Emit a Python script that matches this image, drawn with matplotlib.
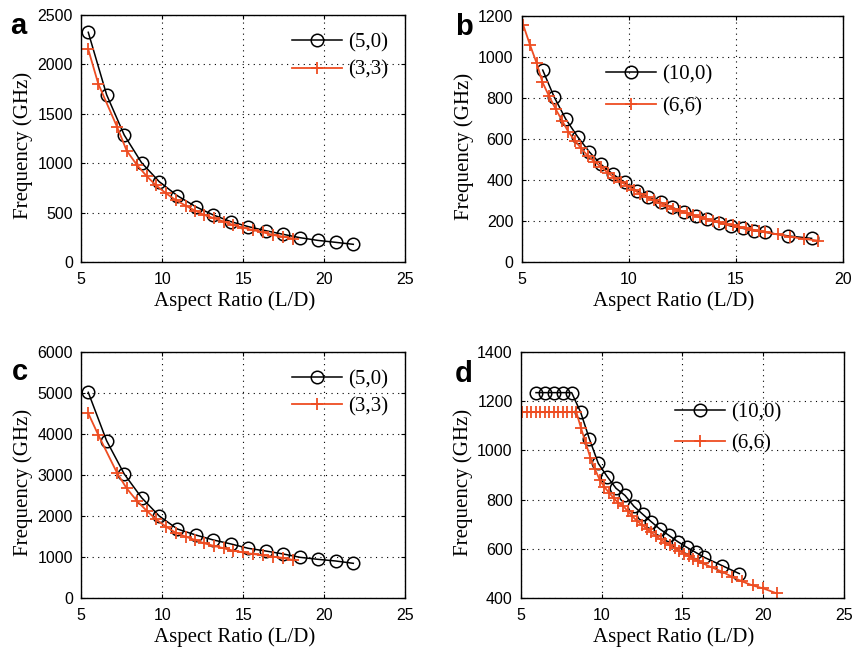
import matplotlib
matplotlib.use("Agg")
import matplotlib.pyplot as plt

# panel a / c : (5,0) and (3,3)
ar_50 = [5.43, 6.56, 7.65, 8.72, 9.81, 10.93, 12.06, 13.15, 14.24, 15.31, 16.38,
         17.47, 18.50, 19.59, 20.70, 21.79]
ar_33 = [5.43, 6.05, 7.22, 7.80, 8.42, 9.03, 9.61, 10.23, 10.82, 11.44, 12.02,
         12.59, 13.21, 13.81, 14.38, 15.00, 15.58, 16.23, 16.85, 17.47, 18.09]
freq_50_a = [2325, 1694, 1285, 1005, 813, 671, 560, 476, 408, 358, 317, 280,
             246, 219, 199, 179]
freq_33_a = [2152, 1802, 1363, 1127, 985, 870, 776, 695, 628, 570, 520, 476,
             442, 408, 374, 347, 324, 300, 273, 256, 236]
freq_50_c = [5011, 3835, 3024, 2449, 2003, 1686, 1541, 1419, 1322, 1216, 1151,
             1078, 997, 949, 908, 851]
freq_33_c = [4500, 3973, 3040, 2676, 2376, 2132, 1922, 1743, 1597, 1500, 1419,
             1338, 1273, 1216, 1159, 1119, 1078, 1046, 1014, 981, 932]

# panel b : (10,0) and (6,6)
ar_100_b = [5.98, 6.51, 7.05, 7.61, 8.15, 8.68, 9.24, 9.80, 10.36, 10.90, 11.48,
            12.02, 12.57, 13.12, 13.66, 14.20, 14.76, 15.31, 15.84, 16.35, 17.43, 18.52]
freq_100_b = [935, 805, 697, 610, 537, 477, 429, 388, 347, 315, 291, 266, 242,
              224, 208, 191, 175, 164, 152, 145, 127, 115]
ar_66_b = [5.07, 5.39, 5.70, 5.96, 6.27, 6.59, 6.89, 7.17, 7.49, 7.77, 8.08, 8.39,
           8.70, 9.01, 9.32, 9.62, 9.93, 10.24, 10.54, 10.85, 11.16, 11.46, 11.77,
           12.08, 12.38, 12.69, 13.00, 13.30, 13.61, 13.92, 14.22, 14.53, 14.84,
           15.14, 15.45, 15.76, 16.06, 16.37, 16.94, 17.51, 18.15, 18.84]
freq_66_b = [1155, 1057, 968, 878, 809, 744, 688, 635, 591, 554, 517, 489, 464,
             435, 411, 390, 372, 350, 332, 315, 300, 286, 273, 260, 249, 238, 228,
             219, 210, 201, 193, 185, 178, 171, 165, 158, 152, 146, 134, 123, 113, 104]

# panel d : (10,0) and (6,6)
ar_100_d = [5.93, 6.49, 7.05, 7.58, 8.14, 8.70, 9.24, 9.79, 10.35, 10.89, 11.45,
            12.00, 12.54, 13.08, 13.62, 14.17, 14.71, 15.27, 15.83, 16.36, 17.48, 18.53]
freq_100_d = [1234, 1234, 1234, 1234, 1234, 1154, 1046, 947, 893, 846, 817, 773,
              741, 710, 680, 655, 630, 607, 586, 566, 532, 500]
ar_66_d = [5.07, 5.35, 5.63, 5.91, 6.19, 6.47, 6.75, 7.03, 7.31, 7.59, 7.87, 8.15,
           8.43, 8.72, 9.01, 9.30, 9.59, 9.88, 10.17, 10.46, 10.75, 11.04, 11.33,
           11.62, 11.91, 12.20, 12.49, 12.78, 13.07, 13.36, 13.65, 13.94, 14.23,
           14.52, 14.81, 15.10, 15.39, 15.68, 15.97, 16.26, 16.84, 17.45, 18.06,
           18.68, 19.36, 20.02, 20.85]
freq_66_d = [1155, 1155, 1155, 1155, 1155, 1155, 1155, 1155, 1155, 1155, 1155, 1155,
             1155, 1090, 1030, 970, 923, 880, 851, 828, 806, 786, 775, 753, 732,
             713, 698, 683, 667, 652, 639, 626, 615, 603, 592, 581, 570, 561, 552,
             542, 525, 508, 488, 469, 452, 440, 420]

RED = '#ee4d22'
serif = 'Liberation Serif'
sans = 'Liberation Sans'

fig = plt.figure(figsize=(8.53, 6.49), dpi=100)
W, H = 853.0, 649.0


def make_ax(l, r, t, b):
    return fig.add_axes([l / W, 1 - b / H, (r - l) / W, (b - t) / H])


panels = [
    # letter, box, black, red, labels, xlim, ylim, yticks, legend anchor, spacing, letter pos
    ('a', (81.3, 405.3, 15, 262), (ar_50, freq_50_a), (ar_33, freq_33_a),
     ('(5,0)', '(3,3)'), (5, 25), (0, 2500), range(0, 2501, 500), (0.625, 0.962), 0.38, (10, 34)),
    ('b', (521.7, 843.3, 15.7, 262), (ar_100_b, freq_100_b), (ar_66_b, freq_66_b),
     ('(10,0)', '(6,6)'), (5, 20), (0, 1200), range(0, 1201, 200), (0.235, 0.835), 0.6, (455, 35)),
    ('c', (81.3, 405.3, 351.7, 598.3), (ar_50, freq_50_c), (ar_33, freq_33_c),
     ('(5,0)', '(3,3)'), (5, 25), (0, 6000), range(0, 6001, 1000), (0.625, 0.962), 0.38, (12, 380)),
    ('d', (521, 843.7, 351.7, 598.3), (ar_100_d, freq_100_d), (ar_66_d, freq_66_d),
     ('(10,0)', '(6,6)'), (5, 25), (400, 1400), range(400, 1401, 200), (0.45, 0.827), 0.55, (455, 382)),
]

for letter, box, blk, red, labs, xl, yl, yt, anchor, lsp, lpos in panels:
    ax = make_ax(*box)
    ax.plot(blk[0], blk[1], color='black', lw=1.1, marker='o', ms=9,
            mfc='none', mec='black', mew=1.1, label=labs[0])
    ax.plot(red[0], red[1], color=RED, lw=1.3, marker='+', ms=9,
            mew=1.3, label=labs[1])
    ax.set_xlim(*xl)
    ax.set_ylim(*yl)
    ax.set_yticks(list(yt))
    ax.set_xticks(list(range(xl[0], xl[1] + 1, 5)))
    ax.grid(True, color='black', linestyle=(0, (1, 4)), lw=0.8)
    ax.tick_params(direction='in', top=True, right=True, length=3,
                   labelsize=11.5, width=0.8)
    ax.tick_params(axis='x', pad=7)
    ax.tick_params(axis='y', pad=6)
    for lab in ax.get_xticklabels() + ax.get_yticklabels():
        lab.set_fontfamily(sans)
    for s in ax.spines.values():
        s.set_linewidth(1.0)
    ax.set_xlabel('Aspect Ratio (L/D)', fontfamily=serif, fontsize=15,
                  labelpad=3, x=0.472, ha='center')
    ax.set_ylabel('Frequency (GHz)', fontfamily=serif, fontsize=15,
                  labelpad=3, y=0.47, ha='center')
    ax.legend(loc='upper left', bbox_to_anchor=anchor, frameon=False,
              prop={'family': serif, 'size': 15}, handlelength=2.4,
              handletextpad=0.3, borderaxespad=0, labelspacing=lsp)
    fig.text(lpos[0] / W, 1 - lpos[1] / H, letter, fontfamily=sans,
             fontweight='bold', fontsize=21, ha='left', va='baseline')

fig.savefig('out.png', dpi=100)
